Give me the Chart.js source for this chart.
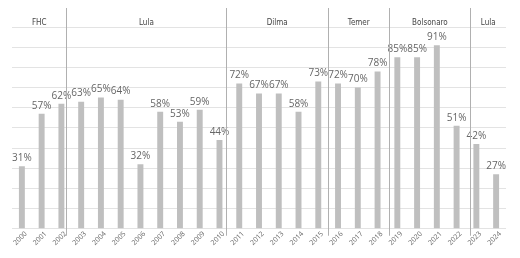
<!DOCTYPE html>
<html>
<head>
<meta charset="utf-8">
<script src="https://cdn.jsdelivr.net/npm/chart.js@4"></script>
<style>
  html, body { margin: 0; padding: 0; background: #fff; }
  #wrap { width: 520px; height: 258px; }
</style>
</head>
<body>
<div id="wrap"><canvas id="chart"></canvas></div>
<script>
// Dados
const years = ['2000', '2001', '2002', '2003', '2004', '2005', '2006', '2007', '2008', '2009',
  '2010', '2011', '2012', '2013', '2014', '2015', '2016', '2017', '2018', '2019',
  '2020', '2021', '2022', '2023', '2024'];
const values = [31, 57, 62, 63, 65, 64, 32, 58, 53, 59, 44, 72, 67, 67, 58, 73, 72, 70, 78, 85, 85, 91, 51, 42, 27];
const yTicks = [0, 10, 20, 30, 40, 50, 60, 70, 80, 90, 100];

// Governos e onde ficam as divisórias (em unidades de categoria)
const governos = ['FHC', 'Lula', 'Dilma', 'Temer', 'Bolsonaro', 'Lula'];
const divisorias = [2.25, 10.35, 15.5, 18.6, 22.7];

// -----------------------------------------------------------------
// Plugin: rótulos de valor acima das barras
// -----------------------------------------------------------------
const valueLabels = {
  id: 'valueLabels',
  afterDatasetsDraw(chart) {
    const ctx = chart.ctx;
    const meta = chart.getDatasetMeta(0);
    ctx.save();
    ctx.font = '10px "Open Sans", sans-serif';
    ctx.fillStyle = '#666';
    ctx.textAlign = 'center';
    ctx.textBaseline = 'bottom';
    meta.data.forEach(function (bar, i) {
      ctx.fillText(values[i] + '%', bar.x, bar.y - 3);
    });
    ctx.restore();
  }
};

// -----------------------------------------------------------------
// Plugin: divisórias verticais e nomes dos governos
// -----------------------------------------------------------------
const governoBands = {
  id: 'governoBands',
  afterDatasetsDraw(chart) {
    const ctx = chart.ctx;
    const x = chart.scales.x;
    const area = chart.chartArea;
    const step = x.getPixelForValue(1) - x.getPixelForValue(0);
    const pos = function (v) { return x.getPixelForValue(0) + v * step; };

    ctx.save();
    ctx.strokeStyle = '#b0b0b0';
    ctx.lineWidth = 1;
    divisorias.forEach(function (d) {
      const px = Math.round(pos(d)) + 0.5;
      ctx.beginPath();
      ctx.moveTo(px, area.top - 19);
      ctx.lineTo(px, area.bottom + 7);
      ctx.stroke();
    });

    const bordas = [area.left].concat(divisorias.map(pos)).concat([area.right]);
    ctx.font = '8px "Liberation Sans Narrow", "DejaVu Sans Condensed", sans-serif';
    ctx.fillStyle = '#444';
    ctx.textAlign = 'center';
    ctx.textBaseline = 'bottom';
    governos.forEach(function (g, i) {
      ctx.fillText(g, (bordas[i] + bordas[i + 1]) / 2, area.top - 0.5);
    });
    ctx.restore();
  }
};

new Chart(document.getElementById('chart'), {
  type: 'bar',
  data: {
    labels: years,
    datasets: [{
      data: values,
      backgroundColor: '#bfbfbf',
      borderWidth: 0,
      barPercentage: 0.3,
      categoryPercentage: 1.0,
    }],
  },
  options: {
    responsive: true,
    maintainAspectRatio: false,
    animation: false,
    layout: { padding: { top: 27, left: 12, right: 14, bottom: 10 } },
    plugins: {
      legend: { display: false },
      tooltip: { enabled: false },
    },
    scales: {
      x: {
        grid: { display: false, drawTicks: false },
        border: { display: false },
        ticks: {
          maxRotation: 45,
          minRotation: 45,
          color: '#666',
          padding: 1,
          labelOffset: 4,
          font: { size: 7, family: '"Open Sans", sans-serif' },
        },
      },
      y: {
        min: yTicks[0],
        max: yTicks[yTicks.length - 1],
        grid: { color: '#e3e3e3', lineWidth: 1, drawTicks: false },
        border: { display: false },
        ticks: { display: false, stepSize: yTicks[1] - yTicks[0] },
      },
    },
  },
  plugins: [valueLabels, governoBands],
});
</script>
</body>
</html>
